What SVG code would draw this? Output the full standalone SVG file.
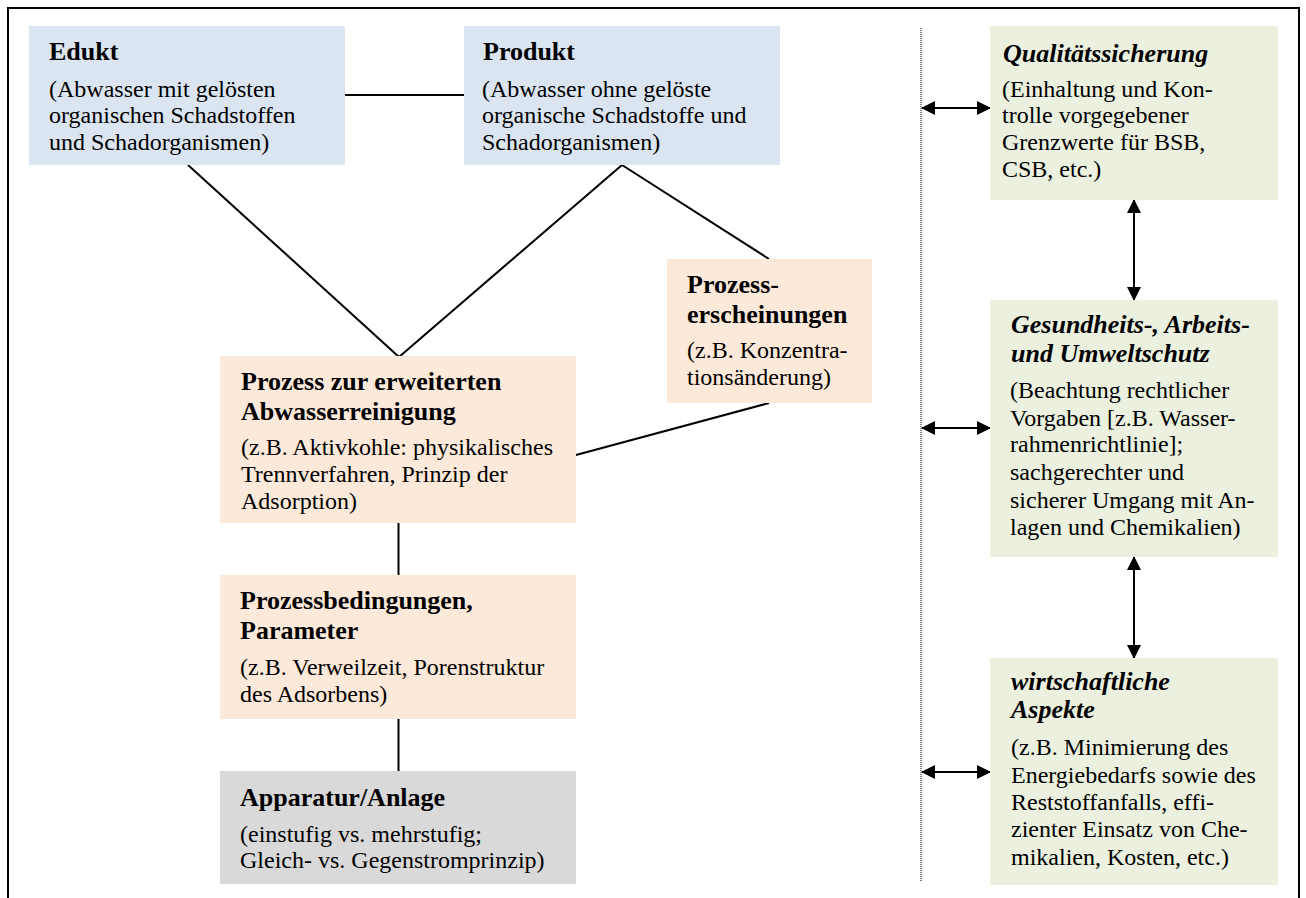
<svg xmlns="http://www.w3.org/2000/svg" width="1306" height="898" viewBox="0 0 1306 898">
  <defs>
    <style>
      text { font-family: "Liberation Serif", "Times New Roman", serif; fill: #000; }
      .t { font-size: 26px; font-weight: bold; }
      .ti { font-size: 26px; font-weight: bold; font-style: italic; }
      .b { font-size: 24px; }
      .blue { fill: #DBE5F1; }
      .peach { fill: #FDE9D9; }
      .green { fill: #EBF1DE; }
      .gray { fill: #D9D9D9; }
      .conn { stroke: #000; stroke-width: 2; fill: none; }
      .arr { stroke: #000; stroke-width: 2; fill: none; marker-start: url(#ah); marker-end: url(#ah); }
    </style>
    <marker id="ah" markerUnits="userSpaceOnUse" markerWidth="14" markerHeight="14" refX="13" refY="7" orient="auto-start-reverse">
      <path d="M0,0 L14,7 L0,14 Z" fill="#000"/>
    </marker>
  </defs>
  <rect width="1306" height="898" fill="#fff"/>
  <path d="M8,898 V8 H1299 V898" fill="none" stroke="#000" stroke-width="2"/>
  <line x1="921" y1="28" x2="921" y2="882" stroke="#000" stroke-width="1" stroke-dasharray="1 1"/>

  <g id="connectors">
    <line class="conn" x1="345" y1="95" x2="464" y2="95"/>
    <line class="conn" x1="188" y1="165" x2="399" y2="357"/>
    <line class="conn" x1="622" y1="165" x2="399" y2="357"/>
    <line class="conn" x1="622" y1="165" x2="769" y2="259"/>
    <line class="conn" x1="769" y1="403" x2="576" y2="455"/>
    <line class="conn" x1="398.5" y1="523" x2="398.5" y2="575"/>
    <line class="conn" x1="398.5" y1="719" x2="398.5" y2="771"/>
    <line class="arr" x1="922" y1="108" x2="990" y2="108"/>
    <line class="arr" x1="922" y1="428" x2="990" y2="428"/>
    <line class="arr" x1="922" y1="772" x2="990" y2="772"/>
    <line class="arr" x1="1134" y1="200" x2="1134" y2="300"/>
    <line class="arr" x1="1134" y1="557" x2="1134" y2="658"/>
  </g>

  <g id="edukt">
    <rect class="blue" x="29" y="26" width="316" height="139"/>
    <text class="t" x="49" y="60">Edukt</text>
    <text class="b" x="49" y="97">(Abwasser mit gelösten</text>
    <text class="b" x="49" y="123">organischen Schadstoffen</text>
    <text class="b" x="49" y="150">und Schadorganismen)</text>
  </g>

  <g id="produkt">
    <rect class="blue" x="464" y="26" width="316" height="139"/>
    <text class="t" x="483" y="60">Produkt</text>
    <text class="b" x="482" y="97">(Abwasser ohne gelöste</text>
    <text class="b" x="482" y="123">organische Schadstoffe und</text>
    <text class="b" x="482" y="150">Schadorganismen)</text>
  </g>

  <g id="prozesserscheinungen">
    <rect class="peach" x="667" y="259" width="205" height="144"/>
    <text class="t" x="687" y="293">Prozess-</text>
    <text class="t" x="687" y="323">erscheinungen</text>
    <text class="b" x="687" y="358">(z.B. Konzentra-</text>
    <text class="b" x="687" y="385">tionsänderung)</text>
  </g>

  <g id="prozess">
    <rect class="peach" x="220" y="356" width="356" height="167"/>
    <text class="t" x="241" y="390">Prozess zur erweiterten</text>
    <text class="t" x="241" y="420">Abwasserreinigung</text>
    <text class="b" x="241" y="455">(z.B. Aktivkohle: physikalisches</text>
    <text class="b" x="241" y="482">Trennverfahren, Prinzip der</text>
    <text class="b" x="241" y="509">Adsorption)</text>
  </g>

  <g id="prozessbedingungen">
    <rect class="peach" x="220" y="575" width="356" height="144"/>
    <text class="t" x="240" y="609">Prozessbedingungen,</text>
    <text class="t" x="240" y="639">Parameter</text>
    <text class="b" x="240" y="675">(z.B. Verweilzeit, Porenstruktur</text>
    <text class="b" x="240" y="702">des Adsorbens)</text>
  </g>

  <g id="apparatur">
    <rect class="gray" x="220" y="771" width="356" height="113"/>
    <text class="t" x="240" y="806">Apparatur/Anlage</text>
    <text class="b" x="240" y="842">(einstufig vs. mehrstufig;</text>
    <text class="b" x="240" y="868">Gleich- vs. Gegenstromprinzip)</text>
  </g>

  <g id="qualitaetssicherung">
    <rect class="green" x="990" y="26" width="288" height="174"/>
    <text class="ti" x="1003" y="62">Qualitätssicherung</text>
    <text class="b" x="1002" y="97">(Einhaltung und Kon-</text>
    <text class="b" x="1002" y="123">trolle vorgegebener</text>
    <text class="b" x="1002" y="150">Grenzwerte für BSB,</text>
    <text class="b" x="1002" y="177">CSB, etc.)</text>
  </g>

  <g id="gesundheit">
    <rect class="green" x="990" y="300" width="288" height="257"/>
    <text class="ti" x="1011" y="333">Gesundheits-, Arbeits-</text>
    <text class="ti" x="1011" y="362">und Umweltschutz</text>
    <text class="b" x="1010" y="398">(Beachtung rechtlicher</text>
    <text class="b" x="1010" y="426">Vorgaben [z.B. Wasser-</text>
    <text class="b" x="1010" y="452">rahmenrichtlinie];</text>
    <text class="b" x="1010" y="480">sachgerechter und</text>
    <text class="b" x="1010" y="508">sicherer Umgang mit An-</text>
    <text class="b" x="1010" y="535">lagen und Chemikalien)</text>
  </g>

  <g id="wirtschaft">
    <rect class="green" x="990" y="658" width="288" height="227"/>
    <text class="ti" x="1011" y="690">wirtschaftliche</text>
    <text class="ti" x="1011" y="718">Aspekte</text>
    <text class="b" x="1011" y="755">(z.B. Minimierung des</text>
    <text class="b" x="1011" y="783">Energiebedarfs sowie des</text>
    <text class="b" x="1011" y="810">Reststoffanfalls, effi-</text>
    <text class="b" x="1011" y="837">zienter Einsatz von Che-</text>
    <text class="b" x="1011" y="865">mikalien, Kosten, etc.)</text>
  </g>
</svg>
